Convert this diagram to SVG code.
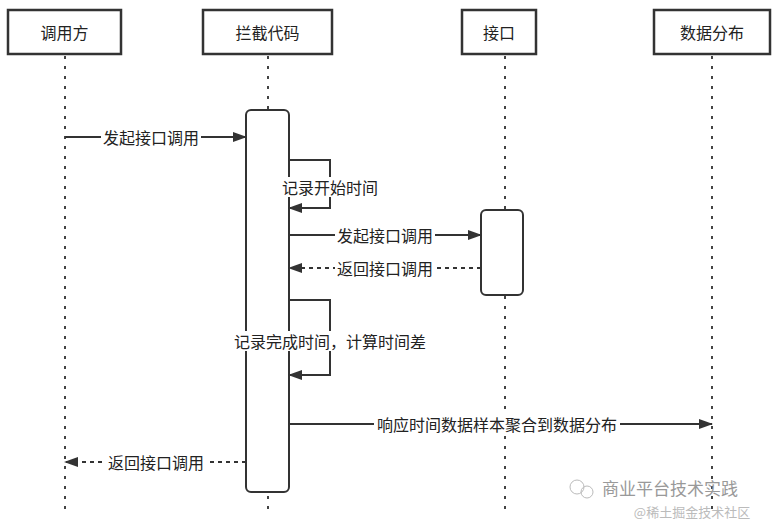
<svg xmlns="http://www.w3.org/2000/svg" width="780" height="524" viewBox="0 0 780 524">
<style>
.box{fill:#fff;stroke:#333;stroke-width:2.5}
.life{stroke:#444;stroke-width:2;stroke-dasharray:3 7}
.act{fill:#fff;stroke:#333;stroke-width:2}
.ln{stroke:#333;stroke-width:2;fill:none}
.dash{stroke:#333;stroke-width:2;fill:none;stroke-dasharray:4 4}
text{font-family:"Noto Sans CJK SC",sans-serif;font-size:16px;fill:#222;text-anchor:middle;dominant-baseline:central}
.lbl{fill:#fff;stroke:none}
.wm{fill:#bbb;font-size:16px}
</style>
<defs><marker id="ah" markerWidth="14" markerHeight="10" refX="13" refY="5" orient="auto" markerUnits="userSpaceOnUse"><path d="M0,0 L14,5 L0,10z" fill="#333"/></marker></defs>
<g id="lifelines">
<line class="life" x1="65" y1="56" x2="65" y2="512"/>
<line class="life" x1="268" y1="56" x2="268" y2="512"/>
<line class="life" x1="505" y1="56" x2="505" y2="512"/>
<line class="life" x1="712" y1="56" x2="712" y2="512"/>
</g>
<g id="n1"><rect class="box" x="8" y="10" width="113" height="44"/><text x="64.5" y="32">调用方</text></g>
<g id="n2"><rect class="box" x="203" y="10" width="129" height="44"/><text x="267.5" y="32">拦截代码</text></g>
<g id="n3"><rect class="box" x="462" y="10" width="74" height="44"/><text x="499" y="32">接口</text></g>
<g id="n4"><rect class="box" x="654" y="10" width="116" height="44"/><text x="712" y="32">数据分布</text></g>
<g id="a1"><rect class="act" x="246" y="110" width="43" height="382" rx="5"/></g>
<g id="a2"><rect class="act" x="481" y="210" width="42" height="85" rx="5"/></g>
<g id="connectors">
<line class="ln" x1="65" y1="137" x2="246" y2="137" marker-end="url(#ah)"/>
<rect class="lbl" x="101" y="127" width="100" height="20"/><text x="151" y="137">发起接口调用</text>
<polyline class="ln" points="289,160 330,160 330,208 289,208" marker-end="url(#ah)"/>
<rect class="lbl" x="280" y="177" width="100" height="20"/><text x="330" y="187">记录开始时间</text>
<line class="ln" x1="289" y1="235" x2="481" y2="235" marker-end="url(#ah)"/>
<rect class="lbl" x="335" y="225" width="100" height="20"/><text x="385" y="235">发起接口调用</text>
<line class="dash" x1="481" y1="268" x2="289" y2="268" marker-end="url(#ah)"/>
<rect class="lbl" x="335" y="258" width="100" height="20"/><text x="385" y="268">返回接口调用</text>
<polyline class="ln" points="289,300 330,300 330,375 289,375" marker-end="url(#ah)"/>
<rect class="lbl" x="218" y="331" width="224" height="20"/><text x="330" y="341">记录完成时间，计算时间差</text>
<line class="ln" x1="289" y1="424" x2="712" y2="424" marker-end="url(#ah)"/>
<rect class="lbl" x="374" y="414" width="246" height="20"/><text x="497" y="424">响应时间数据样本聚合到数据分布</text>
<line class="dash" x1="246" y1="462" x2="65" y2="462" marker-end="url(#ah)"/>
<rect class="lbl" x="103" y="452" width="106" height="20"/><text x="156" y="462">返回接口调用</text>
</g>
<text class="wm" x="670" y="487" style="fill:#999;font-size:17px">商业平台技术实践</text>
<text class="wm" x="692" y="511" style="font-size:13px">@稀土掘金技术社区</text>
<circle cx="577" cy="487" r="7" fill="none" stroke="#bbb"/><circle cx="587" cy="492" r="6" fill="none" stroke="#bbb"/>
</svg>
